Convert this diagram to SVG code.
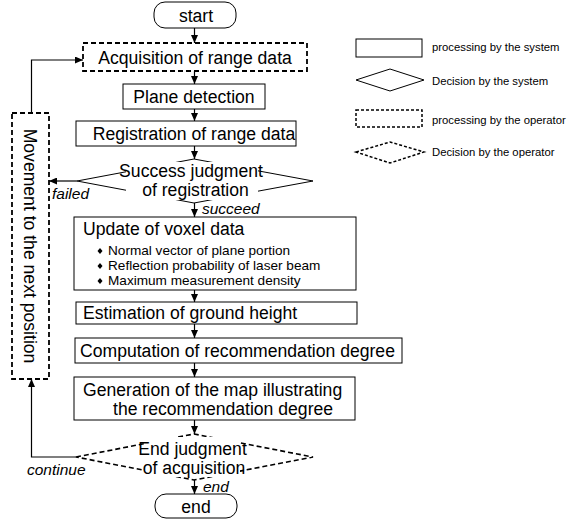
<svg xmlns="http://www.w3.org/2000/svg" width="571" height="522" viewBox="0 0 571 522">
<defs>
<style>
.bg{fill:#fff}
.sys{fill:#fff;stroke:#000;stroke-width:1}
.op{fill:#fff;stroke:#000;stroke-width:1.8;stroke-dasharray:5,3}
.dm{fill:none;stroke:#000;stroke-width:1}
.dmop{fill:none;stroke:#000;stroke-width:1.6;stroke-dasharray:5,3}
.mask{fill:#fff;stroke:none}
.t{font-family:"Liberation Sans",Arial,sans-serif;font-size:17.6px;fill:#000}
.tc{text-anchor:middle}
.s{font-family:"Liberation Sans",Arial,sans-serif;font-size:13.6px;fill:#000}
.lbl{font-family:"Liberation Sans",Arial,sans-serif;font-size:15.5px;font-style:italic;fill:#000}
.lg{font-family:"Liberation Sans",Arial,sans-serif;font-size:11.3px;fill:#000}
.c{fill:none;stroke:#000;stroke-width:1.2}
.bul{fill:#000}
</style>
<marker id="ah" markerUnits="userSpaceOnUse" markerWidth="8" markerHeight="7" refX="8" refY="3.5" orient="auto">
<path d="M0,0 L8,3.5 L0,7 z" fill="#000"/>
</marker>
</defs>
<rect class="bg" x="0" y="0" width="571" height="522"/>

<g id="connectors">
<line class="c" x1="194.5" y1="28" x2="194.5" y2="43" marker-end="url(#ah)"/>
<line class="c" x1="194.5" y1="71" x2="194.5" y2="84" marker-end="url(#ah)"/>
<line class="c" x1="194.5" y1="109" x2="194.5" y2="121" marker-end="url(#ah)"/>
<line class="c" x1="194.5" y1="146" x2="194.5" y2="159" marker-end="url(#ah)"/>
<line class="c" x1="194.5" y1="203" x2="194.5" y2="217" marker-end="url(#ah)"/>
<line class="c" x1="194.5" y1="290" x2="194.5" y2="302" marker-end="url(#ah)"/>
<line class="c" x1="194.5" y1="324" x2="194.5" y2="338" marker-end="url(#ah)"/>
<line class="c" x1="194.5" y1="363" x2="194.5" y2="377" marker-end="url(#ah)"/>
<line class="c" x1="194.5" y1="420" x2="194.5" y2="434" marker-end="url(#ah)"/>
<line class="c" x1="194.5" y1="480" x2="194.5" y2="494" marker-end="url(#ah)"/>
<line class="c" x1="77" y1="181" x2="49" y2="181" marker-end="url(#ah)"/>
<polyline class="c" points="76,457 31.5,457 31.5,379" marker-end="url(#ah)"/>
<polyline class="c" points="31.5,113 31.5,60 83,60" marker-end="url(#ah)"/>
</g>

<g id="start">
<rect class="sys" x="154" y="2" width="82" height="26" rx="11"/>
<text class="t tc" x="196" y="22">start</text>
</g>

<g id="acquisition">
<rect class="op" x="83" y="43" width="224" height="28"/>
<text class="t tc" x="195" y="63.5">Acquisition of range data</text>
</g>

<g id="plane">
<rect class="sys" x="123" y="84" width="142" height="25"/>
<text class="t tc" x="194" y="102.5">Plane detection</text>
</g>

<g id="registration">
<rect class="sys" x="76" y="121" width="220" height="25"/>
<text class="t tc" x="194" y="139.5">Registration of range data</text>
</g>

<g id="success">
<polygon class="dm" points="77,181 194,159 313,181 194,203"/>
<rect class="mask" x="126" y="162" width="132" height="38"/>
<text class="t tc" x="191" y="177">Success judgment</text>
<text class="t tc" x="195.5" y="196">of registration</text>
</g>

<g id="update">
<rect class="sys" x="74" y="217" width="282" height="73"/>
<text class="t" x="83" y="235">Update of voxel data</text>
<polygon class="bul" points="100,248 102.5,251 100,254 97.5,251"/>
<text class="s" x="108" y="254.5">Normal vector of plane portion</text>
<polygon class="bul" points="100,263 102.5,266 100,269 97.5,266"/>
<text class="s" x="108" y="269.5">Reflection probability of laser beam</text>
<polygon class="bul" points="100,278 102.5,281 100,284 97.5,281"/>
<text class="s" x="108" y="284.5">Maximum measurement density</text>
</g>

<g id="estimation">
<rect class="sys" x="76" y="302" width="281" height="22"/>
<text class="t" x="83" y="319">Estimation of ground height</text>
</g>

<g id="computation">
<rect class="sys" x="75" y="338" width="327" height="25"/>
<text class="t" x="80" y="356.5">Computation of recommendation degree</text>
</g>

<g id="generation">
<rect class="sys" x="74" y="377" width="281" height="43"/>
<text class="t" x="83" y="396">Generation of the map illustrating</text>
<text class="t" x="113" y="415">the recommendation degree</text>
</g>

<g id="endjudgment">
<polygon class="dmop" points="76,457 194,434 313,457 194,480"/>
<rect class="mask" x="144" y="437" width="96" height="40"/>
<text class="t tc" x="192.5" y="455">End judgment</text>
<text class="t tc" x="194" y="474">of acquisition</text>
</g>

<g id="end">
<rect class="sys" x="155" y="494" width="82" height="24" rx="11"/>
<text class="t tc" x="196" y="513">end</text>
</g>

<g id="movement">
<rect class="op" x="12" y="113" width="37" height="266"/>
<text class="t tc" transform="translate(30,246) rotate(90)" x="0" y="6">Movement to the next position</text>
</g>

<g id="labels">
<text class="lbl" x="52" y="199">failed</text>
<text class="lbl" x="202" y="214">succeed</text>
<text class="lbl" x="27" y="475">continue</text>
<text class="lbl" x="203" y="492">end</text>
</g>

<g id="legend">
<rect class="sys" x="356" y="39" width="66" height="18"/>
<text class="lg" x="432" y="51">processing by the system</text>
<polygon class="dm" points="356,80 390,69 424,80 390,91"/>
<text class="lg" x="432" y="85">Decision by the system</text>
<rect class="op" x="356" y="110" width="66" height="17" style="stroke-width:1.5;stroke-dasharray:3,2"/>
<text class="lg" x="432" y="124">processing by the operator</text>
<polygon class="dmop" points="356,152 390,142 424,152 390,163" style="stroke-width:1.5;stroke-dasharray:3,2"/>
<text class="lg" x="432" y="156">Decision by the operator</text>
</g>
</svg>
